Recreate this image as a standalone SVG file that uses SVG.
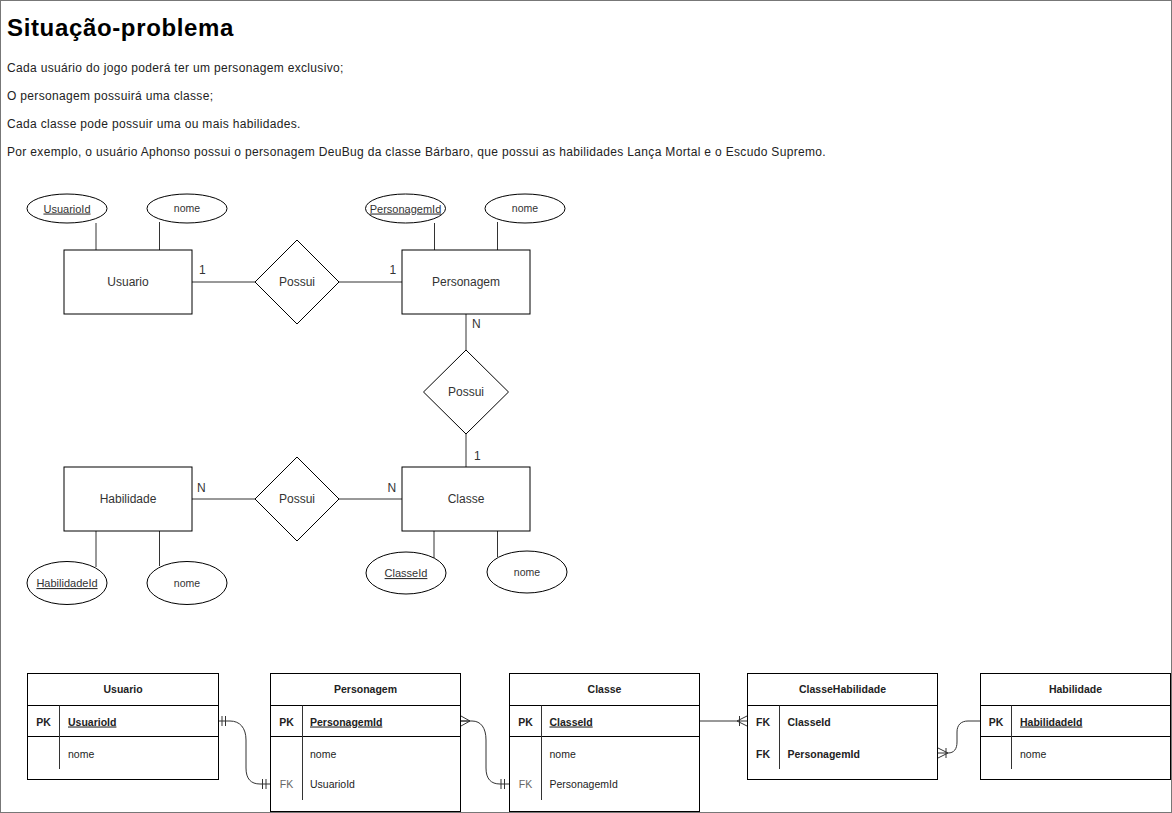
<svg xmlns="http://www.w3.org/2000/svg" width="1172" height="813" viewBox="0 0 1172 813">
<style>
text{font-family:"Liberation Sans",Arial,Helvetica,sans-serif;fill:#333}
.shape{fill:#fff;stroke:#000;stroke-width:1}
.ln{stroke:#333;stroke-width:1;fill:none}
.er{font-size:12px;text-anchor:middle}
.lab{font-size:12px}
.att{font-size:11px;text-anchor:middle}
.tb{font-size:10.5px;fill:#222}
.tbh{font-size:10.5px;font-weight:bold;text-anchor:middle;fill:#222}
.b{font-weight:bold}
.u{text-decoration:underline}
.c{text-anchor:middle}
.g{fill:#666}
.body{font-size:12px;fill:#222;letter-spacing:0.33px}
</style>
<rect x="0.5" y="0.5" width="1171" height="812" fill="#fff" stroke="#777"/>
<g id="texto">
<text x="7" y="36" style="font-size:24px;font-weight:bold;fill:#000;letter-spacing:0.65px">Situação-problema</text>
<text class="body" x="7" y="72">Cada usuário do jogo poderá ter um personagem exclusivo;</text>
<text class="body" x="7" y="100">O personagem possuirá uma classe;</text>
<text class="body" x="7" y="128">Cada classe pode possuir uma ou mais habilidades.</text>
<text class="body" x="7" y="156">Por exemplo, o usuário Aphonso possui o personagem DeuBug da classe Bárbaro, que possui as habilidades Lança Mortal e o Escudo Supremo.</text>
</g>
<g id="connectors">
<line class="ln" x1="96" y1="223" x2="96" y2="250"/>
<line class="ln" x1="159.5" y1="222" x2="159.5" y2="250"/>
<line class="ln" x1="434.5" y1="223" x2="434.5" y2="250"/>
<line class="ln" x1="497.5" y1="222" x2="497.5" y2="250"/>
<line class="ln" x1="192" y1="282" x2="255" y2="282"/>
<line class="ln" x1="339" y1="282" x2="402" y2="282"/>
<line class="ln" x1="466" y1="314" x2="466" y2="350"/>
<line class="ln" x1="466" y1="434" x2="466" y2="467"/>
<line class="ln" x1="192" y1="499" x2="255" y2="499"/>
<line class="ln" x1="339" y1="499" x2="402" y2="499"/>
<line class="ln" x1="96" y1="531" x2="96" y2="567"/>
<line class="ln" x1="159.5" y1="531" x2="159.5" y2="566"/>
<line class="ln" x1="434" y1="531" x2="434" y2="558"/>
<line class="ln" x1="497.5" y1="531" x2="497.5" y2="557"/>
<path class="ln" d="M218,721 H230 C240,721 246,728 246,740 V768 C246,779 251,784 260,784 H270"/>
<path class="ln" d="M222,716 V726 M225.5,716 V726 M262.5,779 V789 M266,779 V789"/>
<path class="ln" d="M461,721 H472 C481,721 486,728 486,740 V768 C486,779 491,784 500,784 H509"/>
<path class="ln" d="M461,716 L470,721 L461,726 M461,721 H470 M501,779 V789 M504.5,779 V789"/>
<path class="ln" d="M700,721 H747"/>
<path class="ln" d="M739.5,716 V726 M737,721 L747,716 M737,721 L747,726"/>
<path class="ln" d="M938,753 H948 C954,753 957,749 957,742 V732 C957,725 961,721 968,721 H981"/>
<path class="ln" d="M946,748 V758 M948,753 L938,748 M948,753 L938,758"/>
</g>
<g id="usuario-er">
<rect class="shape" x="64" y="250" width="128" height="64"/>
<text class="er" x="128" y="286">Usuario</text>
</g>
<g id="usuarioid-er">
<ellipse class="shape" cx="67" cy="208.5" rx="40" ry="14.5"/>
<text class="att u" x="67" y="212.5">UsuarioId</text>
</g>
<g id="usuario-nome-er">
<ellipse class="shape" cx="187" cy="208.5" rx="40" ry="14.5"/>
<text class="att" x="187" y="212" style="font-size:10.5px">nome</text>
</g>
<g id="possui1">
<polygon class="shape" points="297,240 339,282 297,324 255,282"/>
<text class="er" x="297" y="286">Possui</text>
</g>
<g id="personagem-er">
<rect class="shape" x="402" y="250" width="128" height="64"/>
<text class="er" x="466" y="286">Personagem</text>
</g>
<g id="personagemid-er">
<ellipse class="shape" cx="405.5" cy="208.5" rx="40" ry="14.5"/>
<text class="att u" x="405.5" y="212.5">PersonagemId</text>
</g>
<g id="personagem-nome-er">
<ellipse class="shape" cx="525" cy="208.5" rx="40" ry="14.5"/>
<text class="att" x="525" y="212" style="font-size:10.5px">nome</text>
</g>
<g id="possui2">
<polygon class="shape" points="466,350 508.5,392 466,434 423.5,392"/>
<text class="er" x="466" y="396">Possui</text>
</g>
<g id="classe-er">
<rect class="shape" x="402" y="467" width="128" height="64"/>
<text class="er" x="466" y="503">Classe</text>
</g>
<g id="classeid-er">
<ellipse class="shape" cx="406" cy="573" rx="40" ry="21"/>
<text class="att u" x="406" y="577">ClasseId</text>
</g>
<g id="classe-nome-er">
<ellipse class="shape" cx="527" cy="572" rx="40" ry="21"/>
<text class="att" x="527" y="576" style="font-size:10.5px">nome</text>
</g>
<g id="possui3">
<polygon class="shape" points="297,457 339,499 297,541 255,499"/>
<text class="er" x="297" y="503">Possui</text>
</g>
<g id="habilidade-er">
<rect class="shape" x="64" y="467" width="128" height="64"/>
<text class="er" x="128" y="503">Habilidade</text>
</g>
<g id="habilidadeid-er">
<ellipse class="shape" cx="67" cy="583" rx="40" ry="21.5"/>
<text class="att u" x="67" y="587">HabilidadeId</text>
</g>
<g id="habilidade-nome-er">
<ellipse class="shape" cx="187" cy="583" rx="40" ry="21.5"/>
<text class="att" x="187" y="587" style="font-size:10.5px">nome</text>
</g>
<g id="cardinalidades">
<text class="lab" x="199" y="274">1</text>
<text class="lab" x="389.5" y="274">1</text>
<text class="lab" x="472" y="328">N</text>
<text class="lab" x="474" y="460">1</text>
<text class="lab" x="197" y="492">N</text>
<text class="lab" x="387.5" y="492">N</text>
</g>
<g id="tab-usuario">
<rect class="shape" x="27.5" y="673.5" width="191" height="106"/>
<line class="ln" x1="27.5" y1="705.5" x2="218.5" y2="705.5" style="stroke:#000"/>
<line class="ln" x1="27.5" y1="736.5" x2="218.5" y2="736.5" style="stroke:#000"/>
<line class="ln" x1="59.5" y1="705.5" x2="59.5" y2="769"/>
<text class="tbh" x="123" y="693">Usuario</text>
<text class="tb b c" x="43.5" y="725.5">PK</text>
<text class="tb b u" x="68" y="725.5">UsuarioId</text>
<text class="tb" x="68" y="757.5">nome</text>
</g>
<g id="tab-personagem">
<rect class="shape" x="270.5" y="673.5" width="190" height="138"/>
<line class="ln" x1="270.5" y1="705.5" x2="460.5" y2="705.5" style="stroke:#000"/>
<line class="ln" x1="270.5" y1="736.5" x2="460.5" y2="736.5" style="stroke:#000"/>
<line class="ln" x1="302.5" y1="705.5" x2="302.5" y2="800"/>
<text class="tbh" x="365.5" y="693">Personagem</text>
<text class="tb b c" x="286.5" y="725.5">PK</text>
<text class="tb b u" x="310" y="725.5">PersonagemId</text>
<text class="tb" x="310" y="757.5">nome</text>
<text class="tb c g" x="286.5" y="788">FK</text>
<text class="tb" x="310" y="788">UsuarioId</text>
</g>
<g id="tab-classe">
<rect class="shape" x="509.5" y="673.5" width="190" height="138"/>
<line class="ln" x1="509.5" y1="705.5" x2="699.5" y2="705.5" style="stroke:#000"/>
<line class="ln" x1="509.5" y1="736.5" x2="699.5" y2="736.5" style="stroke:#000"/>
<line class="ln" x1="541.5" y1="705.5" x2="541.5" y2="800"/>
<text class="tbh" x="604.5" y="693">Classe</text>
<text class="tb b c" x="525.5" y="725.5">PK</text>
<text class="tb b u" x="549.5" y="725.5">ClasseId</text>
<text class="tb" x="549.5" y="757.5">nome</text>
<text class="tb c g" x="525.5" y="788">FK</text>
<text class="tb" x="549.5" y="788">PersonagemId</text>
</g>
<g id="tab-classehabilidade">
<rect class="shape" x="747.5" y="673.5" width="190" height="106"/>
<line class="ln" x1="747.5" y1="705.5" x2="937.5" y2="705.5" style="stroke:#000"/>
<line class="ln" x1="779.5" y1="705.5" x2="779.5" y2="769"/>
<text class="tbh" x="842.5" y="693">ClasseHabilidade</text>
<text class="tb b c" x="763" y="725.5">FK</text>
<text class="tb b" x="787.5" y="725.5">ClasseId</text>
<text class="tb b c" x="763" y="757.5">FK</text>
<text class="tb b" x="787.5" y="757.5">PersonagemId</text>
</g>
<g id="tab-habilidade">
<rect class="shape" x="980.5" y="673.5" width="190" height="106"/>
<line class="ln" x1="980.5" y1="705.5" x2="1170.5" y2="705.5" style="stroke:#000"/>
<line class="ln" x1="980.5" y1="736.5" x2="1170.5" y2="736.5" style="stroke:#000"/>
<line class="ln" x1="1011.5" y1="705.5" x2="1011.5" y2="769"/>
<text class="tbh" x="1075.5" y="693">Habilidade</text>
<text class="tb b c" x="996" y="725.5">PK</text>
<text class="tb b u" x="1020" y="725.5">HabilidadeId</text>
<text class="tb" x="1020" y="757.5">nome</text>
</g>
</svg>
